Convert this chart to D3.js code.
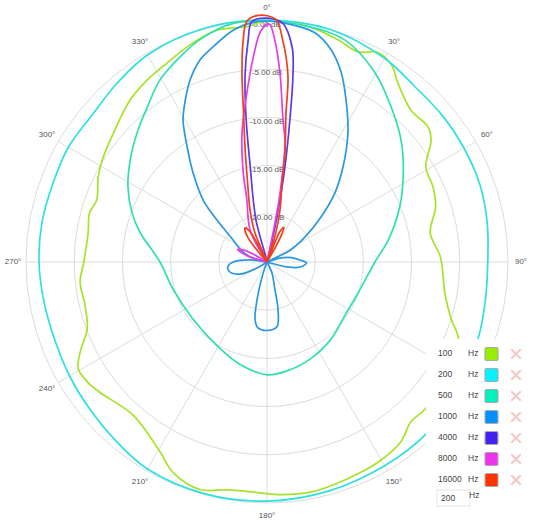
<!DOCTYPE html>
<html><head><meta charset="utf-8">
<script src="https://cdn.jsdelivr.net/npm/d3@7"></script>
<style>body{margin:0;background:#fff}svg{display:block;font-family:"Liberation Sans",Arial,sans-serif}</style>
</head><body><svg id="c" width="556" height="525"></svg>
<script>
// ---- data ----
const frequencies = ["100", "200", "500", "1000", "4000", "8000", "16000"];
const traceColors = ["#a8e22a", "#2ee0e0", "#2ee0b2", "#2a98e0", "#5a3ae6", "#e23ee6", "#f0401e"];
const swatchColors = ["#99ee00", "#00f6ff", "#00f0c0", "#0090ff", "#4422ee", "#ee33ee", "#ff3300"];
const dbTicks = [0, -5, -10, -15, -20];
const dbLabels = ["0.00 dB", "-5.00 dB", "-10.00 dB", "-15.00 dB", "-20.00 dB"];
const angleTicks = [0, 30, 60, 90, 120, 150, 180, 210, 240, 270, 300, 330];
const inputValue = "200";

// [angle in degrees, level in dB]
const hz100 = [[0,0],[10,-0.2],[17.7,-0.8],[23.4,-1.25],[27.9,-0.4],[32.2,-0.8],[36.2,-2.0],[43.5,-3.3],[50,-3.2],[53.4,-3.8],[59.1,-5.8],[65.7,-6.1],[71.9,-6.6],[79.9,-7.8],[88.4,-7.0],[100.5,-6.2],[107.2,-5.0],[111.9,-3.6],[120,-3.0],[132.9,-2.6],[138,-2.7],[143.3,-1.75],[151,-1.25],[160.2,-1.0],[169.2,-0.7],[177.3,-0.85],[183.5,-1.1],[190,-1.0],[196.4,-0.4],[204.1,-1.1],[209.4,-2.4],[221.2,-3.9],[232.1,-3.0],[236.3,-2.6],[240.5,-2.5],[244.3,-3.5],[249.6,-5.1],[256.7,-5.6],[263.9,-5.5],[270,-6.0],[279.2,-6.2],[285.5,-5.9],[290,-6.2],[296.7,-5.4],[301.7,-4.9],[310,-4.2],[319.8,-3.0],[326.6,-2.4],[333.3,-1.9],[341.3,-1.0],[347.8,-0.4],[355,-0.5]];
const hz200 = [[0,0.1],[15,0],[30,-0.6],[40,-1.2],[50,-1.3],[60,-1.4],[70,-1.5],[80,-1.8],[90,-2.1],[100,-2.0],[110,-1.7],[125,-1.1],[137,-0.7],[150,-0.6],[165,-0.4],[180,-0.2],[195,-0.1],[210,-0.2],[220,-0.7],[230,-1.1],[240,-1.35],[250,-1.55],[260,-1.5],[270,-1.35],[280,-1.3],[290,-1.35],[300,-1.2],[310,-1.3],[320,-0.8],[330,-0.2],[345,0.1]];
const hz500 = [[0,0],[10,-0.2],[19.4,-0.6],[29.7,-2.4],[38.7,-4.4],[47.7,-6.2],[56.8,-8.1],[67.5,-10.1],[79.7,-12.2],[90,-13.8],[108.3,-15.0],[124.2,-15.2],[140.3,-14.6],[155.6,-14.0],[170,-13.5],[180,-13.3],[194.7,-14.0],[211.1,-14.9],[232.4,-15.3],[254,-14.85],[270,-13.9],[283,-11.5],[290,-10.1],[298.4,-8.6],[306.7,-7.3],[314.8,-6.0],[322.3,-4.7],[329.5,-3.1],[337,-1.9],[343.2,-0.9],[351.9,0]];
const hz1000 = [[0,0],[5,-0.2],[11.8,-0.7],[16.8,-2.0],[21.4,-3.9],[26,-6.3],[32.1,-9.2],[38.7,-12.4],[44.6,-15.0],[50.2,-17.7],[56.7,-20.3],[63,-22.3],[69,-25],[73,-23.6],[80,-22.4],[86.5,-21.6],[91.4,-20.9],[98.6,-21.5],[104,-22.9],[112,-25],[150,-25],[155.6,-23.8],[164,-22.0],[167,-19.9],[171.3,-18.2],[179.2,-17.9],[187.8,-18.1],[191.7,-18.9],[194.7,-20.9],[198.4,-23.4],[205,-25],[232,-25],[239,-23.8],[246,-21.9],[255,-21.0],[263,-20.9],[270,-21.5],[277,-23.2],[281,-25],[286.4,-23.2],[295,-22.0],[303,-20.8],[310,-18.2],[314.1,-15.8],[320.3,-13.0],[325.2,-10.5],[329.4,-7.9],[333.2,-6.2],[337.1,-4.5],[341.7,-2.9],[345.9,-2.0],[351.7,-0.7],[356.7,-0.1]];
const hz4000 = [[328,-25],[335,-22.8],[340,-25],[345.3,-20.5],[350.1,-14.8],[351.7,-10],[353.3,-5.5],[355.1,-2.0],[356.4,0.0],[0,0.3],[3.8,-0.2],[6.7,-2.6],[7.9,-5.4],[9.1,-9.9],[10.7,-15],[11.8,-18.4],[12.9,-21.3],[14,-23.7],[18,-25]];
const hz8000 = [[280,-25],[287,-23],[293,-21.7],[298,-22.5],[305,-25],[325,-25],[332,-21.3],[342.1,-18.2],[345.4,-15.1],[349,-11.4],[352.6,-8.0],[356.1,-3.8],[358.5,-1.0],[0.5,-0.3],[2.1,-2.1],[4,-5.5],[6.3,-10],[8.6,-12.5],[10.7,-17.7],[11.5,-20.5],[14,-25]];
const hz16000 = [[318,-25],[322,-21.8],[327,-20.8],[331,-21.5],[334,-25],[337.5,-21.7],[342,-19.3],[346.5,-16.3],[349.2,-12.8],[351.2,-9],[352.4,-5.4],[353.8,-2.0],[355.3,0.1],[358,0.6],[2,0.2],[4.1,-2.0],[6.4,-5.5],[7.3,-9.5],[9.3,-13.5],[10.75,-16.7],[14,-19.4],[17,-22],[20,-25],[23,-21.6],[26,-21.0],[29,-22.5],[32,-25]];
const seriesData = [hz100, hz200, hz500, hz1000, hz4000, hz8000, hz16000];

// ---- drawing ----
const svg = d3.select("#c");
const cx = 267, cy = 262, R = 241;
const rScale = d3.scaleLinear().domain([-25, 0]).range([0, R]);
const rad = d => Math.max(0, rScale(d));
const toRad = a => a * Math.PI / 180;

const g = svg.append("g").attr("transform", `translate(${cx},${cy})`);

// grid circles
g.selectAll("circle.grid").data(dbTicks).join("circle")
  .attr("class", "grid").attr("r", d => rScale(d))
  .attr("fill", "none").attr("stroke", "#dcdcdc").attr("stroke-width", 1);

// spokes
g.selectAll("line.spoke").data(angleTicks).join("line")
  .attr("class", "spoke")
  .attr("x1", 0).attr("y1", 0)
  .attr("x2", a => R * Math.sin(toRad(a)))
  .attr("y2", a => -R * Math.cos(toRad(a)))
  .attr("stroke", "#dcdcdc").attr("stroke-width", 1);

// angle labels
g.selectAll("text.ang").data(angleTicks).join("text")
  .attr("class", "ang")
  .attr("x", a => (R + 13) * Math.sin(toRad(a)))
  .attr("y", a => -(R + 13) * Math.cos(toRad(a)))
  .attr("text-anchor", "middle").attr("dominant-baseline", "middle")
  .attr("font-size", 8).attr("fill", "#555")
  .text(a => a + "°");

// dB labels
g.selectAll("text.db").data(dbTicks).join("text")
  .attr("class", "db")
  .attr("x", 0).attr("y", (d) => -rScale(d) + 4)
  .attr("text-anchor", "middle").attr("dominant-baseline", "middle")
  .attr("font-size", 8).attr("fill", "#555")
  .text((d, i) => dbLabels[i]);

// traces
const line = d3.lineRadial()
  .angle(d => toRad(d[0]))
  .radius(d => rad(d[1]))
  .curve(d3.curveCatmullRomClosed.alpha(0.5));

g.selectAll("path.trace").data(seriesData).join("path")
  .attr("class", "trace")
  .attr("d", d => line(d))
  .attr("fill", "none")
  .attr("stroke", (d, i) => traceColors[i])
  .attr("stroke-width", 1.7)
  .attr("stroke-linejoin", "round");

// legend panel
const lg = svg.append("g");
lg.append("rect").attr("x", 426).attr("y", 339).attr("width", 130).attr("height", 186).attr("fill", "#fff");
const rowY = i => 354 + i * 21;
frequencies.forEach((f, i) => {
  const y = rowY(i);
  lg.append("text").attr("x", 438).attr("y", y).attr("dominant-baseline", "middle")
    .attr("font-size", 8.5).attr("fill", "#444").text(f);
  lg.append("text").attr("x", 468).attr("y", y).attr("dominant-baseline", "middle")
    .attr("font-size", 8.5).attr("fill", "#444").text("Hz");
  lg.append("rect").attr("x", 485).attr("y", y - 6.5).attr("width", 13).attr("height", 13)
    .attr("rx", 1.5).attr("fill", swatchColors[i]).attr("stroke", "#aaa").attr("stroke-width", 1.2);
  const xc = 516, s = 4;
  lg.append("path").attr("d", `M${xc - s},${y - s}L${xc + s},${y + s}M${xc + s},${y - s}L${xc - s},${y + s}`)
    .attr("stroke", "#f6c8c8").attr("stroke-width", 2.2).attr("stroke-linecap", "round").attr("fill", "none");
});
lg.append("rect").attr("x", 437).attr("y", 490).attr("width", 33).attr("height", 16)
  .attr("fill", "#fff").attr("stroke", "#e6e6e6");
lg.append("text").attr("x", 441).attr("y", 499).attr("dominant-baseline", "middle")
  .attr("font-size", 8.5).attr("fill", "#444").text(inputValue);
lg.append("text").attr("x", 469).attr("y", 496).attr("dominant-baseline", "middle")
  .attr("font-size", 8.5).attr("fill", "#444").text("Hz");
</script></body></html>
